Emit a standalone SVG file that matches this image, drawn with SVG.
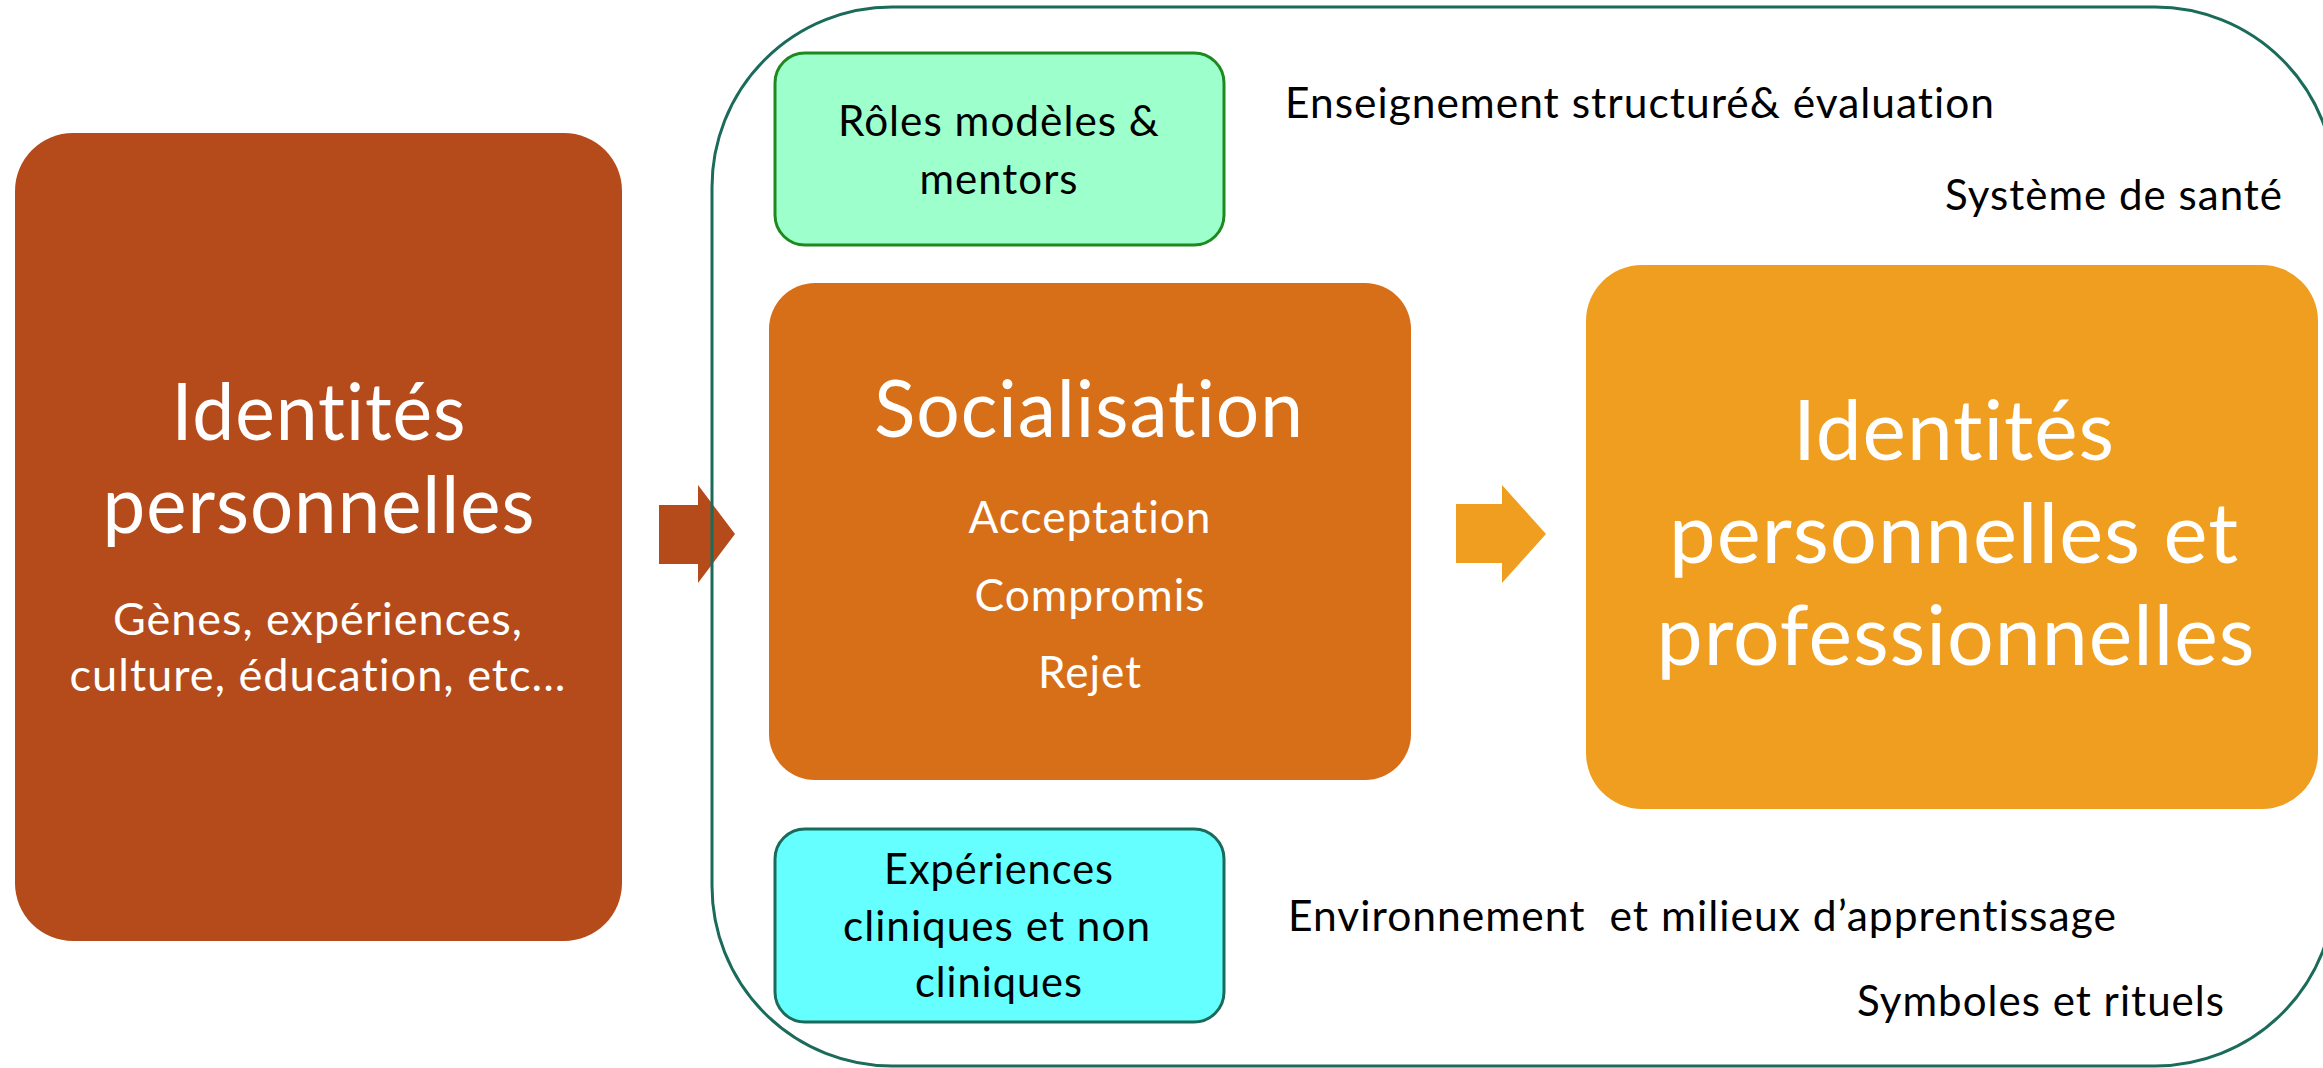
<svg xmlns="http://www.w3.org/2000/svg" width="2323" height="1068" viewBox="0 0 2323 1068">
<style>
.t{font-family:Lato,"Liberation Sans",sans-serif;font-variant-ligatures:none;font-feature-settings:"liga" 0,"clig" 0,"dlig" 0;letter-spacing:1px;}
.w{fill:#ffffff;text-anchor:middle;}
.k{fill:#000000;}
.c{text-anchor:middle;}
.big{font-size:80px;}
.sub{font-size:45px;}
.box{font-size:42px;}
.lbl{font-size:42px;}
</style>
<rect width="2323" height="1068" fill="#ffffff"/>
<g id="connectors">
  <path id="arrow1" d="M659 505 H698 V485 L735 534 L698 583 V564 H659 Z" fill="#b54a1a"/>
  <path id="arrow2" d="M1456 504 H1502 V485 L1546 534 L1502 583 V563 H1456 Z" fill="#f09e1f"/>
</g>
<g id="frame">
  <rect x="712" y="7" width="1623" height="1059" rx="180" ry="180" fill="none" stroke="#1a6b5a" stroke-width="3"/>
</g>
<g id="personal">
  <rect x="15" y="133" width="607" height="808" rx="58" ry="58" fill="#b54a1a"/>
  <text class="t w big" x="319" y="440" textLength="295" lengthAdjust="spacingAndGlyphs">Identités</text>
  <text class="t w big" x="319" y="533" textLength="433" lengthAdjust="spacingAndGlyphs">personnelles</text>
  <text class="t w sub" x="318" y="635" textLength="410" lengthAdjust="spacingAndGlyphs">Gènes, expériences,</text>
  <text class="t w sub" x="318" y="691" textLength="497" lengthAdjust="spacingAndGlyphs">culture, éducation, etc...</text>
</g>
<g id="roles">
  <rect x="775" y="53" width="449" height="192" rx="30" ry="30" fill="#9cffcc" stroke="#1e8a1e" stroke-width="3"/>
  <text class="t k c box" x="999" y="136" textLength="322" lengthAdjust="spacingAndGlyphs">Rôles modèles &amp;</text>
  <text class="t k c box" x="999" y="194" textLength="159" lengthAdjust="spacingAndGlyphs">mentors</text>
</g>
<g id="socialisation">
  <rect x="769" y="283" width="642" height="497" rx="46" ry="46" fill="#d76e18"/>
  <text class="t w big" x="1089" y="437" textLength="430" lengthAdjust="spacingAndGlyphs">Socialisation</text>
  <text class="t w sub" x="1090" y="533" textLength="243" lengthAdjust="spacingAndGlyphs">Acceptation</text>
  <text class="t w sub" x="1090" y="611" textLength="231" lengthAdjust="spacingAndGlyphs">Compromis</text>
  <text class="t w sub" x="1090" y="688" textLength="104" lengthAdjust="spacingAndGlyphs">Rejet</text>
</g>
<g id="experiences">
  <rect x="775" y="829" width="449" height="193" rx="30" ry="30" fill="#66ffff" stroke="#1a6b5a" stroke-width="3"/>
  <text class="t k c box" x="999" y="884" textLength="230" lengthAdjust="spacingAndGlyphs">Expériences</text>
  <text class="t k c box" x="997" y="941" textLength="308" lengthAdjust="spacingAndGlyphs">cliniques et non</text>
  <text class="t k c box" x="999" y="997" textLength="168" lengthAdjust="spacingAndGlyphs">cliniques</text>
</g>
<g id="result">
  <rect x="1586" y="265" width="732" height="544" rx="56" ry="56" fill="#f09e1f"/>
  <text class="t w" x="1954" y="460" font-size="84" textLength="322" lengthAdjust="spacingAndGlyphs">Identités</text>
  <text class="t w" x="1954" y="563" font-size="84" textLength="570" lengthAdjust="spacingAndGlyphs">personnelles et</text>
  <text class="t w" x="1956" y="665" font-size="84" textLength="599" lengthAdjust="spacingAndGlyphs">professionnelles</text>
</g>
<g id="labels">
  <text class="t k lbl" x="1285" y="118" textLength="710" lengthAdjust="spacingAndGlyphs">Enseignement structuré&amp; évaluation</text>
  <text class="t k lbl" x="1945" y="210" textLength="338" lengthAdjust="spacingAndGlyphs">Système de santé</text>
  <text class="t k lbl" x="1288" y="931" textLength="829" lengthAdjust="spacingAndGlyphs" style="white-space:pre">Environnement  et milieux d’apprentissage</text>
  <text class="t k lbl" x="1857" y="1016" textLength="368" lengthAdjust="spacingAndGlyphs">Symboles et rituels</text>
</g>
</svg>
